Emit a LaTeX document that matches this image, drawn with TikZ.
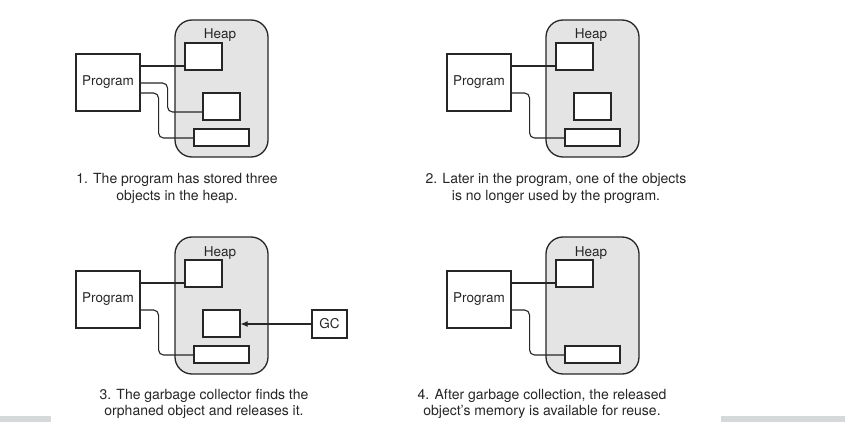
\documentclass[tikz,border=0pt]{standalone}
\usepackage{fontspec}
\setmainfont{TeX Gyre Heros}
\usetikzlibrary{arrows.meta}
\definecolor{ink}{HTML}{262626}
\definecolor{heapfill}{HTML}{E4E4E4}
\definecolor{barcol}{HTML}{D6D9D9}
\tikzset{
  heapbox/.style={draw=ink, fill=heapfill, line width=1.3pt, rounded corners=17pt, inner sep=0pt},
  progbox/.style={draw=ink, fill=white, line width=1.1pt, inner sep=0pt, minimum width=64pt, minimum height=57pt, font=\fontsize{13.5}{15}\selectfont, text=ink},
  objbox/.style={draw=ink, fill=white, line width=1.1pt, inner sep=0pt},
  wire/.style={draw=ink, line width=1.1pt, rounded corners=5pt},
  lbl/.style={font=\fontsize{13.5}{15}\selectfont, text=ink, inner sep=0pt},
  caption/.style={font=\fontsize{14}{16.5}\selectfont, text=ink, align=center, inner sep=0pt},
  bar/.style={fill=barcol, draw=none}
}
\begin{document}
\begin{tikzpicture}[x=1pt,y=-1pt]
\useasboundingbox (0,0) rectangle (845,422);
\fill[white] (0,0) rectangle (845,422);

% ---------- Panel 1 ----------
\node[heapbox, minimum width=93pt, minimum height=137pt] (h1) at (221.5,88.5) {};
\node[lbl, anchor=base] (hl1) at (220,39) {Heap};
\node[progbox] (p1) at (108,82.5) {Program};
\node[objbox, minimum width=37pt, minimum height=27pt] (a1) at (203.5,56.5) {};
\node[objbox, minimum width=37pt, minimum height=27pt] (b1) at (221.5,106.5) {};
\node[objbox, minimum width=55pt, minimum height=17pt] (c1) at (221.5,137.5) {};
\coordinate (p1x) at ([yshift=16.5pt]p1.east);
\coordinate (p1y) at ([yshift=-0.5pt]p1.east);
\coordinate (p1z) at ([yshift=-10.5pt]p1.east);
\draw[wire] (p1x) -- (p1x -| a1.west);
\draw[wire] (p1y) -- ++(27,0) |- ([yshift=-5.5pt]b1.west);
\draw[wire] (p1z) -- ++(18,0) |- ([yshift=-0.5pt]c1.west);
\node[caption] (t1) at (177,188.5) {1. The program has stored three\\objects in the heap.};

% ---------- Panel 2 ----------
\begin{scope}[shift={(371,0)}]
\node[heapbox, minimum width=93pt, minimum height=137pt] (h2) at (221.5,88.5) {};
\node[lbl, anchor=base] (hl2) at (220,39) {Heap};
\node[progbox] (p2) at (108,82.5) {Program};
\node[objbox, minimum width=37pt, minimum height=27pt] (a2) at (203.5,56.5) {};
\node[objbox, minimum width=37pt, minimum height=27pt] (b2) at (221.5,106.5) {};
\node[objbox, minimum width=55pt, minimum height=17pt] (c2) at (221.5,137.5) {};
\coordinate (p2x) at ([yshift=16.5pt]p2.east);
\coordinate (p2z) at ([yshift=-10.5pt]p2.east);
\draw[wire] (p2x) -- (p2x -| a2.west);
\draw[wire] (p2z) -- ++(18,0) |- ([yshift=-0.5pt]c2.west);
\end{scope}
\node[caption] (t2) at (556,188.5) {2. Later in the program, one of the objects\\is no longer used by the program.};

% ---------- Panel 3 ----------
\begin{scope}[shift={(0,217)}]
\node[heapbox, minimum width=93pt, minimum height=137pt] (h3) at (221.5,88.5) {};
\node[lbl, anchor=base] (hl3) at (220,39) {Heap};
\node[progbox] (p3) at (108,82.5) {Program};
\node[objbox, minimum width=37pt, minimum height=27pt] (a3) at (203.5,56.5) {};
\node[objbox, minimum width=37pt, minimum height=27pt] (b3) at (221.5,106.5) {};
\node[objbox, minimum width=55pt, minimum height=17pt] (c3) at (221.5,137.5) {};
\node[objbox, minimum width=35pt, minimum height=28pt, font=\fontsize{13.5}{15}\selectfont, text=ink] (gc) at (329.5,107) {GC};
\coordinate (p3x) at ([yshift=16.5pt]p3.east);
\coordinate (p3z) at ([yshift=-10.5pt]p3.east);
\draw[wire] (p3x) -- (p3x -| a3.west);
\draw[wire] (p3z) -- ++(18,0) |- ([yshift=-0.5pt]c3.west);
\draw[draw=ink, line width=1.1pt, -{Latex[length=7pt,width=6pt]}] (gc.west) -- (gc.west -| b3.east);
\end{scope}
\node[caption] (t3) at (204,404) {3. The garbage collector finds the\\orphaned object and releases it.};

% ---------- Panel 4 ----------
\begin{scope}[shift={(371,217)}]
\node[heapbox, minimum width=93pt, minimum height=137pt] (h4) at (221.5,88.5) {};
\node[lbl, anchor=base] (hl4) at (220,39) {Heap};
\node[progbox] (p4) at (108,82.5) {Program};
\node[objbox, minimum width=37pt, minimum height=27pt] (a4) at (203.5,56.5) {};
\node[objbox, minimum width=55pt, minimum height=17pt] (c4) at (221.5,137.5) {};
\coordinate (p4x) at ([yshift=16.5pt]p4.east);
\coordinate (p4z) at ([yshift=-10.5pt]p4.east);
\draw[wire] (p4x) -- (p4x -| a4.west);
\draw[wire] (p4z) -- ++(18,0) |- ([yshift=-0.5pt]c4.west);
\end{scope}
\node[caption] (t4) at (542,404) {4. After garbage collection, the released\\object's memory is available for reuse.};

% ---------- bottom bars ----------
\fill[bar] (0,416) rectangle (51,422);
\fill[bar] (721,416) rectangle (845,422);
\end{tikzpicture}
\end{document}
